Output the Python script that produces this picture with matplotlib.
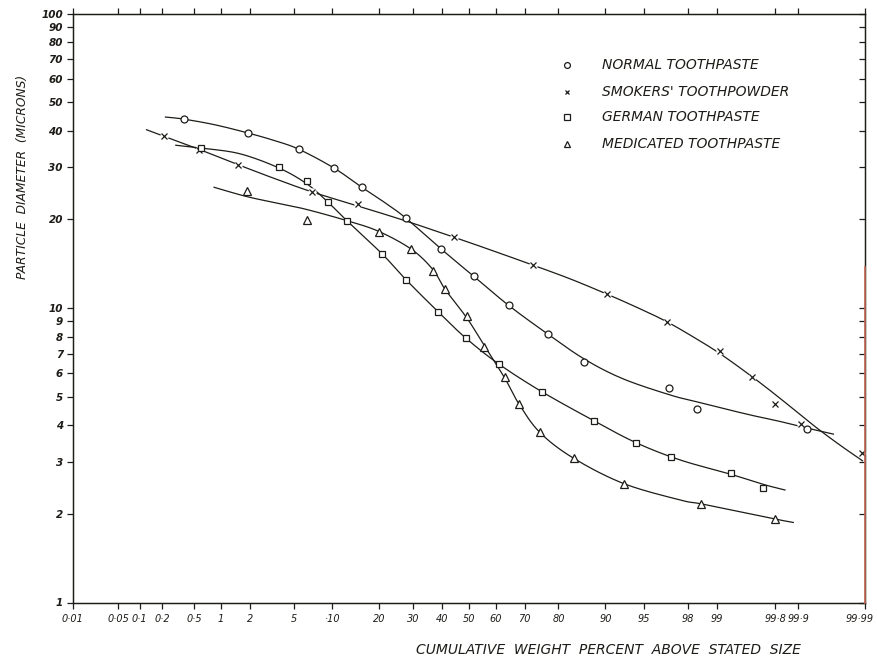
import numpy as np
import matplotlib.pyplot as plt
from matplotlib.lines import Line2D
from matplotlib.transforms import ScaledTranslation
from math import erf

# ---- measured points (cumulative weight % above size, particle diameter in microns)
normal_pct = [0.37, 1.9, 5.5, 10.2, 15.7, 27.7, 39.6, 52.0, 64.7, 77.0, 86.0, 97.0, 98.4, 99.924]
normal_um = [43.8, 39.3, 34.6, 29.9, 25.7, 20.2, 15.9, 12.8, 10.2, 8.15, 6.58, 5.35, 4.54, 3.89]

smokers_pct = [0.21, 0.57, 1.51, 7.06, 14.9, 44.5, 72.8, 90.2, 96.87, 99.07, 99.61, 99.80, 99.908, 99.989]
smokers_um = [38.3, 34.5, 30.5, 24.7, 22.5, 17.4, 13.95, 11.15, 8.98, 7.17, 5.85, 4.73, 4.04, 3.21]

german_pct = [0.60, 3.72, 6.41, 9.32, 12.65, 20.8, 27.9, 38.7, 48.9, 61.1, 75.4, 88.0, 94.2, 97.09, 99.30, 99.71]
german_um = [34.9, 30.2, 26.9, 22.9, 19.8, 15.3, 12.4, 9.71, 7.90, 6.45, 5.20, 4.14, 3.49, 3.12, 2.75, 2.44]

medic_pct = [1.87, 6.45, 19.9, 29.5, 36.7, 41.1, 49.4, 55.7, 63.3, 68.1, 74.8, 83.8, 92.7, 98.52, 99.80]
medic_um = [25.0, 19.9, 18.1, 15.8, 13.4, 11.6, 9.41, 7.40, 5.81, 4.73, 3.79, 3.10, 2.53, 2.16, 1.92]

# ---- the hand drawn smooth curves
normal_curve_pct = [0.22, 0.37, 0.854, 1.90, 3.42, 5.52, 10.24, 15.75, 21.5, 27.7, 39.6, 51.9, 64.6, 77.1,
                    86.2, 92.6, 97.04, 98.39, 99.547, 99.825, 99.922, 99.969]
normal_curve_um = [44.5, 43.8, 41.9, 39.3, 37.0, 34.6, 29.9, 25.7, 22.8, 20.2, 15.9, 12.8, 10.2, 8.15,
                   6.69, 5.75, 5.07, 4.80, 4.36, 4.12, 3.92, 3.73]

smokers_curve_pct = [0.124, 0.209, 0.562, 1.50, 3.42, 7.02, 14.87, 27.4, 44.4, 59.3, 72.9, 82.85, 90.25,
                     94.59, 96.85, 98.27, 99.08, 99.606, 99.825, 99.938, 99.975, 99.989]
smokers_curve_um = [40.3, 38.3, 34.6, 30.7, 27.5, 24.8, 22.2, 19.8, 17.4, 15.6, 13.95, 12.57, 11.15,
                    9.94, 8.98, 7.95, 7.0, 5.85, 4.94, 4.01, 3.43, 3.03]

german_curve_pct = [0.297, 0.609, 1.58, 3.72, 6.41, 9.28, 12.6, 20.7, 28.0, 38.55, 48.9, 61.1, 75.3,
                    88.0, 94.16, 97.62, 99.29, 99.712, 99.85]
german_curve_um = [35.7, 34.9, 33.4, 29.9, 26.4, 22.9, 19.8, 15.3, 12.4, 9.73, 7.90, 6.45, 5.20,
                   4.14, 3.49, 3.05, 2.73, 2.52, 2.41]

medic_curve_pct = [0.838, 1.85, 3.80, 6.41, 12.6, 19.9, 29.6, 36.8, 41.1, 49.25, 55.6, 63.2, 68.1,
                   74.75, 83.56, 92.6, 97.62, 98.57, 99.547, 99.797, 99.884]
medic_curve_um = [25.7, 23.9, 22.6, 21.6, 19.8, 18.2, 15.8, 13.5, 11.6, 9.25, 7.50, 5.78, 4.72,
                  3.78, 3.10, 2.54, 2.23, 2.16, 2.01, 1.92, 1.87]

labels = ['NORMAL TOOTHPASTE', "SMOKERS' TOOTHPOWDER", 'GERMAN TOOTHPASTE', 'MEDICATED TOOTHPASTE']

x_ticks = [0.01, 0.05, 0.1, 0.2, 0.5, 1, 2, 5, 10, 20, 30, 40, 50, 60, 70, 80, 90, 95, 98, 99, 99.8, 99.9, 99.99]
x_ticklabels = ['0\u00b701', '0\u00b705', '0\u00b71', '0\u00b72', '0\u00b75', '1', '2', '5', '\u00b710', '20', '30',
                '40', '50', '60', '70', '80', '90', '95', '98', '99', '99\u00b78', '99\u00b79', '99\u00b799']
y_ticks = [1, 2, 3, 4, 5, 6, 7, 8, 9, 10, 20, 30, 40, 50, 60, 70, 80, 90, 100]


# probability scale (no scipy around)
def probit(p):
    p = np.clip(np.asarray(p, dtype=float) / 100.0, 1e-9, 1 - 1e-9)
    a = [-3.969683028665376e+01, 2.209460984245205e+02, -2.759285104469687e+02,
         1.383577518672690e+02, -3.066479806614716e+01, 2.506628277459239e+00]
    b = [-5.447609879822406e+01, 1.615858368580409e+02, -1.556989798598866e+02,
         6.680131188771972e+01, -1.328068155288572e+01]
    c = [-7.784894002430293e-03, -3.223964580411365e-01, -2.400758277161838e+00,
         -2.549732539343734e+00, 4.374664141464968e+00, 2.938163982698783e+00]
    d = [7.784695709041462e-03, 3.224671290700398e-01, 2.445134137142996e+00,
         3.754408661907416e+00]
    plow = 0.02425
    out = np.empty_like(p)
    lo = p < plow
    hi = p > 1 - plow
    mid = ~(lo | hi)
    q = np.sqrt(-2 * np.log(p[lo]))
    out[lo] = (((((c[0]*q+c[1])*q+c[2])*q+c[3])*q+c[4])*q+c[5]) / ((((d[0]*q+d[1])*q+d[2])*q+d[3])*q+1)
    q = np.sqrt(-2 * np.log(1 - p[hi]))
    out[hi] = -(((((c[0]*q+c[1])*q+c[2])*q+c[3])*q+c[4])*q+c[5]) / ((((d[0]*q+d[1])*q+d[2])*q+d[3])*q+1)
    q = p[mid] - 0.5
    r = q * q
    out[mid] = (((((a[0]*r+a[1])*r+a[2])*r+a[3])*r+a[4])*r+a[5])*q / (((((b[0]*r+b[1])*r+b[2])*r+b[3])*r+b[4])*r+1)
    return out


_verf = np.vectorize(erf)


def ncdf(z):
    z = np.asarray(z, dtype=float)
    return 100.0 * 0.5 * (1 + _verf(z / np.sqrt(2)))


def smooth_curve(pct, um, n=16):
    # catmull-rom through the traced points, done in probit / log space
    P = np.column_stack([probit(pct), np.log10(um)])
    P = np.vstack([2 * P[0] - P[1], P, 2 * P[-1] - P[-2]])
    t = np.linspace(0, 1, n, endpoint=False)[:, None]
    segs = []
    for i in range(1, len(P) - 2):
        p0, p1, p2, p3 = P[i - 1], P[i], P[i + 1], P[i + 2]
        segs.append(0.5 * (2 * p1 + (-p0 + p2) * t + (2 * p0 - 5 * p1 + 4 * p2 - p3) * t ** 2
                           + (-p0 + 3 * p1 - 3 * p2 + p3) * t ** 3))
    segs.append(P[-2][None, :])
    S = np.vstack(segs)
    return ncdf(S[:, 0]), 10 ** S[:, 1]


ink = '#1e1c18'
fig = plt.figure(figsize=(8.78, 6.6), dpi=100)
ax = fig.add_axes([72.7 / 878, 1 - 602.5 / 660, (865 - 72.7) / 878, (602.5 - 13.5) / 660])
ax.set_xscale('function', functions=(probit, ncdf))
ax.set_yscale('log')
ax.set_xlim(0.01, 99.99)
ax.set_ylim(1, 100)

series = [
    (normal_pct, normal_um, normal_curve_pct, normal_curve_um, 'o', 5),
    (smokers_pct, smokers_um, smokers_curve_pct, smokers_curve_um, 'x', 4),
    (german_pct, german_um, german_curve_pct, german_curve_um, 's', 4.5),
    (medic_pct, medic_um, medic_curve_pct, medic_curve_um, '^', 5.5),
]
for pct, um, cpct, cum, mk, ms in series:
    cx, cy = smooth_curve(cpct, cum)
    ax.plot(cx, cy, color=ink, lw=0.9, zorder=2, clip_on=False)
    if mk == 'x':
        ax.plot(pct, um, ls='none', marker='o', ms=6, mfc='white', mec='none', zorder=3, clip_on=False)
        ax.plot(pct, um, ls='none', marker='x', ms=ms, mew=0.9, color=ink, zorder=4, clip_on=False)
    else:
        ax.plot(pct, um, ls='none', marker=mk, ms=ms, mfc='white', mec=ink, mew=0.9, zorder=4, clip_on=False)

ax.set_xticks(x_ticks)
ax.set_xticklabels(x_ticklabels, style='italic', size=7)
ax.set_yticks(y_ticks)
ax.set_yticklabels([str(v) for v in y_ticks], style='italic', size=7.5, weight='bold')
ax.minorticks_off()
ax.tick_params(axis='x', direction='out', length=4, width=0.9, color=ink, labelcolor=ink, top=True, pad=4)
ax.tick_params(axis='y', direction='out', length=4, width=0.9, color=ink, labelcolor=ink, pad=3)
last = ax.get_xticklabels()[-1]
last.set_transform(last.get_transform() + ScaledTranslation(-5 / 100, 0, fig.dpi_scale_trans))
for s in ax.spines.values():
    s.set_color(ink)
    s.set_linewidth(1.0)

# right axis, ticks pointing in
ax2 = ax.twinx()
ax2.set_yscale('log')
ax2.set_ylim(1, 100)
ax2.set_yticks(y_ticks)
ax2.set_yticklabels([])
ax2.minorticks_off()
ax2.tick_params(axis='y', direction='in', length=4, width=0.9, color=ink)
for s in ax2.spines.values():
    s.set_color(ink)
# lower part of the right border is reddish in the scan
ax2.plot([1, 1], [0, 0.57], transform=ax2.transAxes, color='#c46a55', lw=1.2, clip_on=False, zorder=6)

# legend
leg_rows = [65.3, 91.7, 116.7, 144]
for (pct, um, cpct, cum, mk, ms), lab, yr in zip(series, labels, leg_rows):
    fy = 1 - yr / 660
    fig.add_artist(Line2D([567 / 878], [fy], marker=mk, ms=ms - 0.8, ls='none',
                          mfc='white', mec=ink, color=ink, mew=0.9))
    fig.text(602 / 878, fy, lab, va='center', ha='left', style='italic', size=10, color=ink)

fig.text(23 / 878, 1 - 177 / 660, 'PARTICLE  DIAMETER  (MICRONS)', rotation=90, va='center', ha='center',
         style='italic', size=8.8, color=ink)
fig.text(608 / 878, 1 - 650 / 660, 'CUMULATIVE  WEIGHT  PERCENT  ABOVE  STATED  SIZE', va='center', ha='center',
         style='italic', size=10, color=ink)

fig.savefig('out.png', dpi=100, facecolor='white')
